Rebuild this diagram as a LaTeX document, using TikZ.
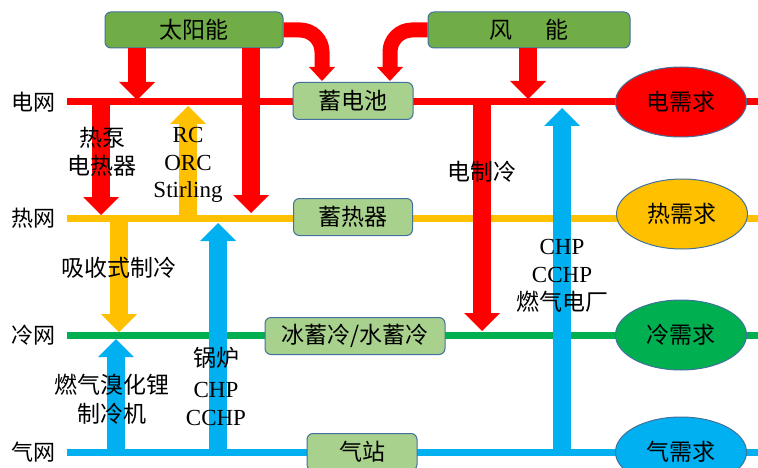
\documentclass[tikz,border=0pt]{standalone}
\usepackage{fontspec}
\setmainfont{Liberation Serif}
\newfontfamily\cjk{Noto Sans CJK SC}
\usetikzlibrary{arrows.meta,shapes.geometric}
\definecolor{cred}{HTML}{FF0000}
\definecolor{corg}{HTML}{FFC000}
\definecolor{cgrn}{HTML}{00B050}
\definecolor{cblu}{HTML}{00B0F0}
\definecolor{dkgrn}{HTML}{70AD47}
\definecolor{ltgrn}{HTML}{A9D18E}
\definecolor{bord}{HTML}{41719C}
\begin{document}
\begin{tikzpicture}[x=1pt,y=-1pt,
  gridline/.style={line width=7pt},
  srcbox/.style={draw=bord, line width=1pt, fill=dkgrn, rounded corners=6pt, minimum height=36pt, inner sep=0pt, font=\cjk\fontsize{23}{27}\selectfont},
  storebox/.style={draw=bord, line width=1pt, fill=ltgrn, rounded corners=6pt, minimum height=37pt, inner sep=0pt, font=\cjk\fontsize{23}{27}\selectfont},
  demand/.style={ellipse, draw=bord, line width=1pt, minimum width=131pt, minimum height=70pt, inner sep=0pt, font=\cjk\fontsize{23}{27}\selectfont},
  blk/.style={line width=18pt, -{Triangle[width=36pt,length=18pt,line width=0pt]}},
  curv/.style={line width=15pt, rounded corners=22pt, -{Triangle[width=26pt,length=14pt,line width=0pt]}},
  gridlab/.style={font=\cjk\fontsize{22}{26}\selectfont, inner sep=0pt},
  cjklab/.style={font=\cjk\fontsize{23}{28.5}\selectfont, align=center, inner sep=0pt},
  latlab/.style={font=\fontsize{23}{27.5}\selectfont, align=center, inner sep=0pt},
]
\useasboundingbox (0,0) rectangle (758,468);
\clip (0,0) rectangle (758,468);
\fill[white] (0,0) rectangle (758,468);

% grid labels
\node[gridlab] (nE) at (34,102) {电网};
\node[gridlab] (nH) at (34,218) {热网};
\node[gridlab] (nC) at (34,335) {冷网};
\node[gridlab] (nG) at (34,452) {气网};

% grid line end points
\coordinate (eS) at (67,102);  \coordinate (eE) at (760,102);
\coordinate (hS) at (67,218);  \coordinate (hE) at (760,218);
\coordinate (cS) at (67,335);  \coordinate (cE) at (760,335);
\coordinate (gS) at (67,452);  \coordinate (gE) at (760,452);

\draw[gridline, cred] (eS) -- (eE);
\draw[gridline, corg] (hS) -- (hE);
\draw[gridline, cgrn] (cS) -- (cE);
\draw[gridline, cblu] (gS) -- (gE);

% source boxes
\node[srcbox, minimum width=178pt] (sun) at (194,30) {太阳能};
\node[srcbox, minimum width=202pt] (wind) at (529,30) {风\hspace{33pt}能};

% arrow coordinates
\coordinate (a1) at (137,100);
\coordinate (a2) at (251,213);
\coordinate (a3) at (322,81);
\coordinate (a4) at (390,81);
\coordinate (a5) at (528,99);
\coordinate (a6s) at (101,102); \coordinate (a6) at (101,215);
\coordinate (a7s) at (188,218); \coordinate (a7) at (188,106);
\coordinate (a8s) at (119,218); \coordinate (a8) at (119,332);
\coordinate (a9s) at (116,452); \coordinate (a9) at (116,339);
\coordinate (a10s) at (218,452); \coordinate (a10) at (218,223);
\coordinate (a11s) at (482,102); \coordinate (a11) at (482,331);
\coordinate (a12s) at (562,452); \coordinate (a12) at (562,108);

\draw[blk, cred] (sun.south -| a1) -- (a1);
\draw[blk, cred] (sun.south -| a2) -- (a2);
\draw[curv, cred] (sun.east) -| (a3);
\draw[curv, cred] (wind.west) -| (a4);
\draw[blk, cred] (wind.south -| a5) -- (a5);
\draw[blk, cred] (a6s) -- (a6);
\draw[blk, corg] (a7s) -- (a7);
\draw[blk, corg] (a8s) -- (a8);
\draw[blk, cblu] (a9s) -- (a9);
\draw[blk, cblu] (a10s) -- (a10);
\draw[blk, cred] (a11s) -- (a11);
\draw[blk, cblu] (a12s) -- (a12);

% storage boxes
\node[storebox, minimum width=120pt] (bat) at (353,101) {蓄电池};
\node[storebox, minimum width=119pt] (hst) at (353,217) {蓄热器};
\node[storebox, minimum width=180pt] (cst) at (355,336) {冰蓄冷/水蓄冷};
\node[storebox, minimum width=110pt] (gst) at (362,452) {气站};

% demand ellipses
\node[demand, fill=cred] (dE) at (681,102) {电需求};
\node[demand, fill=corg] (dH) at (682,214) {热需求};
\node[demand, fill=cgrn] (dC) at (681,335) {冷需求};
\node[demand, fill=cblu] (dG) at (681,452) {气需求};

% arrow labels
\node[cjklab] (lHP) at (102,152) {热泵\\电热器};
\node[latlab] (lRC) at (188,165) {RC\\ORC\\Stirling};
\node[cjklab] (lEC) at (482,172) {电制冷};
\node[cjklab] (lAB) at (119,268) {吸收式制冷};
\node[cjklab] (lLi) at (112,399) {燃气溴化锂\\制冷机};
\node[cjklab] (lBo) at (216,358) {锅炉};
\node[latlab] (lB2) at (216,390) {CHP};
\node[latlab] (lB3) at (216,418) {CCHP};
\node[latlab] (lC1) at (562,247) {CHP};
\node[latlab] (lC2) at (562,275) {CCHP};
\node[cjklab] (lC3) at (562,302) {燃气电厂};
\end{tikzpicture}
\end{document}
